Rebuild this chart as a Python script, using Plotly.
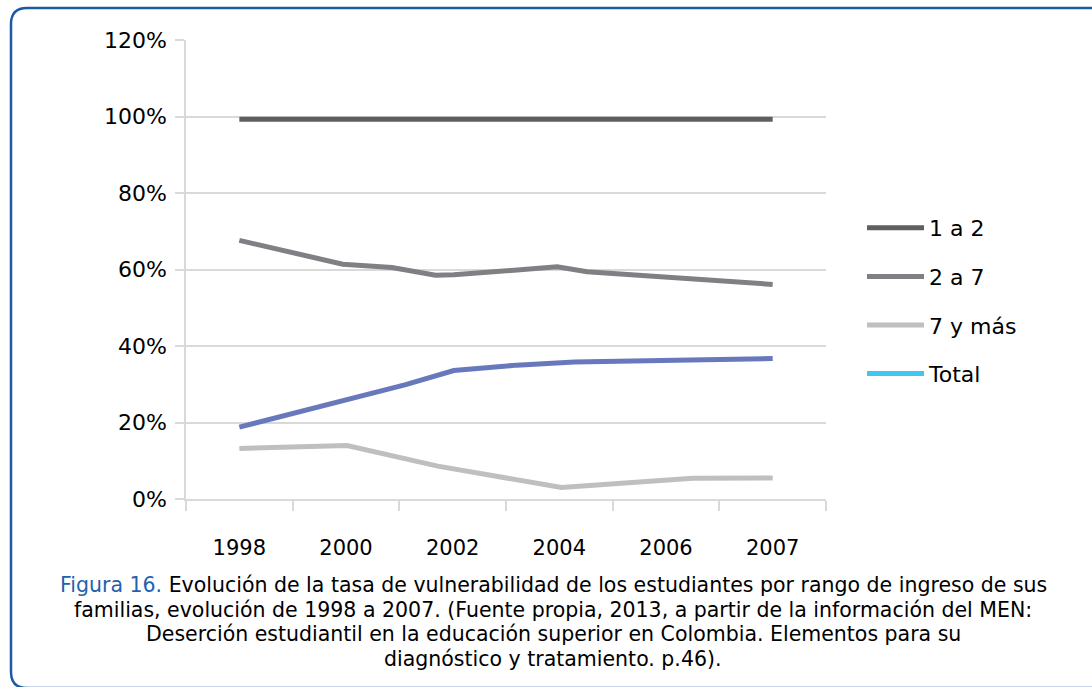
import plotly.graph_objects as go

# ---------------- data ----------------
categorias = ["1998", "2000", "2002", "2004", "2006", "2007"]

# x positions are in category units (0 = 1998 ... 5 = 2007), values in %
x_1a2 = [0, 5]
y_1a2 = [99.3, 99.3]

x_2a7 = [0, 0.97, 1.43, 1.84, 2.01, 2.98, 3.26, 5]
y_2a7 = [67.6, 61.4, 60.5, 58.5, 58.6, 60.7, 59.4, 56.1]

x_7ymas = [0, 1.01, 1.86, 3.02, 4.25, 5]
y_7ymas = [13.2, 14.0, 8.6, 3.0, 5.4, 5.5]

x_total = [0, 1.56, 2.01, 2.6, 3.14, 5]
y_total = [18.8, 29.9, 33.6, 35.0, 35.8, 36.7]

nombres = ["1 a 2", "2 a 7", "7 y más", "Total"]
y_ticks = [0, 20, 40, 60, 80, 100, 120]

caption_lines = [
    "<span style='color:#1f62ad'>Figura 16.</span> Evolución de la tasa de vulnerabilidad de los estudiantes por rango de ingreso de sus",
    "familias, evolución de 1998 a 2007. (Fuente propia, 2013, a partir de la información del MEN:",
    "Deserción estudiantil en la educación superior en Colombia. Elementos para su",
    "diagnóstico y tratamiento. p.46).",
]

# ---------------- layout geometry ----------------
W, H = 1092, 687
L, R, T, B = 186, 826, 40, 499
FONT = "DejaVu Sans, Verdana, sans-serif"


def px_x(p):
    return (p - L) / (R - L)


def px_y(p):
    return (B - p) / (B - T)


fig = go.Figure()

c_1a2 = "#5f5f60"
c_2a7 = "#808084"
c_7 = "#bfbfbf"
c_total_line = "#6878bc"
c_total_leg = "#41c6f3"

fig.add_trace(go.Scatter(x=x_1a2, y=y_1a2, mode="lines", name=nombres[0],
                         line=dict(color=c_1a2, width=5), legendgroup="a"))
fig.add_trace(go.Scatter(x=x_2a7, y=y_2a7, mode="lines", name=nombres[1],
                         line=dict(color=c_2a7, width=5), legendgroup="b"))
fig.add_trace(go.Scatter(x=x_7ymas, y=y_7ymas, mode="lines", name=nombres[2],
                         line=dict(color=c_7, width=5), legendgroup="c"))
fig.add_trace(go.Scatter(x=x_total, y=y_total, mode="lines", name=nombres[3],
                         line=dict(color=c_total_line, width=5), showlegend=False,
                         legendgroup="d"))
# legend entry of "Total" is shown in light blue in the reference
fig.add_trace(go.Scatter(x=[None], y=[None], mode="lines", name=nombres[3],
                         line=dict(color=c_total_leg, width=5), legendgroup="d"))

fig.update_xaxes(
    range=[-0.5, len(categorias) - 0.5],
    tickmode="array",
    tickvals=list(range(len(categorias))),
    ticktext=categorias,
    ticks="",
    showgrid=False,
    zeroline=False,
    showline=True,
    linecolor="#d9d9d9",
    linewidth=1.5,
    tickfont=dict(family=FONT, size=21, color="#000000"),
    ticklabelstandoff=29,
    minor=dict(tickmode="array",
               tickvals=[i - 0.5 for i in range(len(categorias) + 1)],
               ticks="outside", ticklen=10, tickcolor="#d9d9d9", tickwidth=1.5,
               showgrid=False),
    fixedrange=True,
)
fig.update_yaxes(
    range=[0, 120],
    tickmode="array",
    tickvals=y_ticks,
    ticktext=[f"{v}%" for v in y_ticks],
    ticks="outside",
    ticklen=9,
    tickcolor="#d9d9d9",
    tickwidth=1.5,
    showgrid=True,
    gridcolor="#d9d9d9",
    gridwidth=1.5,
    zeroline=False,
    showline=True,
    linecolor="#d9d9d9",
    linewidth=1.5,
    tickfont=dict(family=FONT, size=22, color="#000000"),
    ticklabelstandoff=4,
    fixedrange=True,
)

annotations = []
caption_y = [585, 609.5, 634, 658.5]
for txt, yy in zip(caption_lines, caption_y):
    annotations.append(dict(
        text=txt, xref="paper", yref="paper", x=px_x(553), y=px_y(yy),
        xanchor="center", yanchor="middle", showarrow=False,
        font=dict(family=FONT, size=20.5, color="#000000"),
    ))

# rounded frame around the figure
fx0, fy0, fx1, fy1, rad = 11, 8, 1110, 688, 16
rx, ry = rad / (R - L), rad / (B - T)
X0, X1 = px_x(fx0), px_x(fx1)
Y0, Y1 = px_y(fy1), px_y(fy0)
frame_path = (
    f"M {X0},{Y0 + ry} L {X0},{Y1 - ry} Q {X0},{Y1} {X0 + rx},{Y1} "
    f"L {X1 - rx},{Y1} Q {X1},{Y1} {X1},{Y1 - ry} L {X1},{Y0 + ry} "
    f"Q {X1},{Y0} {X1 - rx},{Y0} L {X0 + rx},{Y0} Q {X0},{Y0} {X0},{Y0 + ry} Z"
)

fig.update_layout(
    width=W, height=H,
    margin=dict(l=L, r=W - R, t=T, b=H - B, pad=0),
    paper_bgcolor="white",
    plot_bgcolor="white",
    font=dict(family=FONT, size=22, color="#000000"),
    showlegend=True,
    legend=dict(
        x=px_x(862), y=px_y(301), xanchor="left", yanchor="middle",
        font=dict(family=FONT, size=22, color="#000000"),
        bgcolor="rgba(0,0,0,0)", borderwidth=0,
        tracegroupgap=17, traceorder="grouped", itemwidth=57,
    ),
    annotations=annotations,
    shapes=[dict(type="path", path=frame_path, xref="paper", yref="paper",
                 line=dict(color="#1c5ba4", width=2.5), fillcolor="rgba(0,0,0,0)",
                 layer="below")],
)

fig.write_html("out.html", config={"displayModeBar": False},
               post_script="document.body.style.margin='0';document.body.style.overflow='hidden';")
